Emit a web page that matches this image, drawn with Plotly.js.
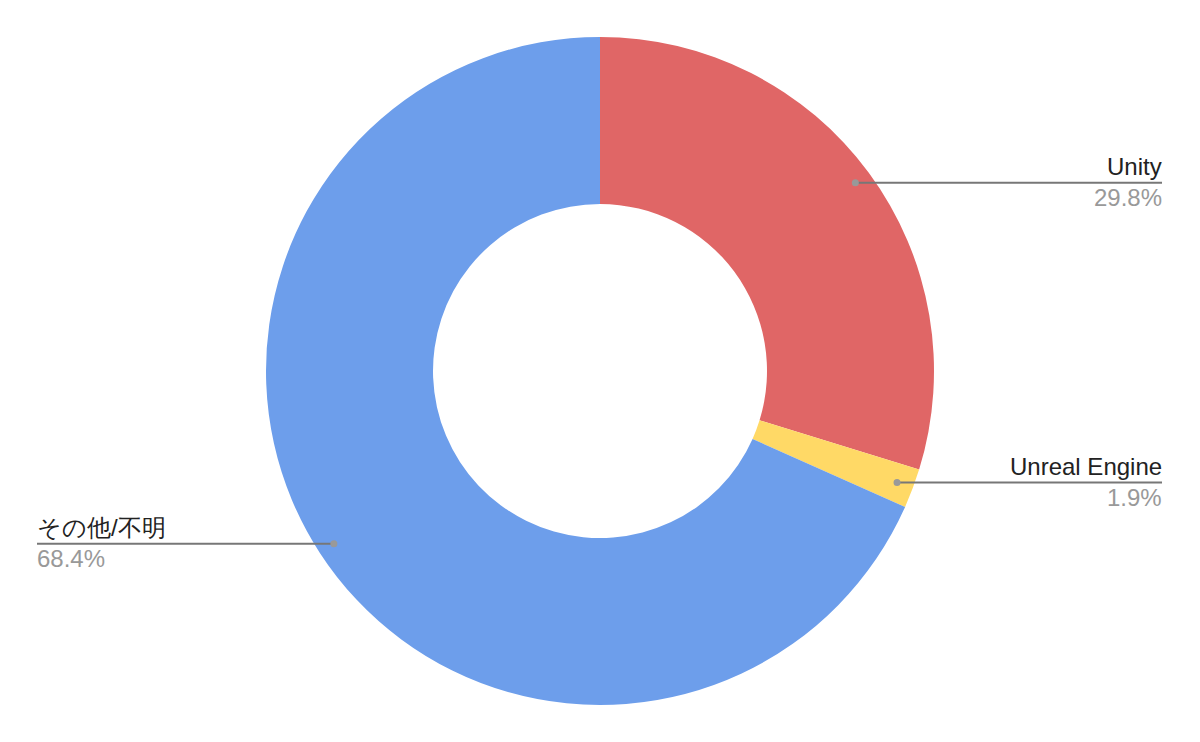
<!DOCTYPE html>
<html><head><meta charset="utf-8">
<script src="https://cdn.plot.ly/plotly-3.0.1.min.js"></script>
<style>html,body{margin:0;padding:0;background:#fff}#chart{width:1200px;height:742px}</style>
</head><body><div id="chart"></div>
<script>
const labels = ["Unity", "Unreal Engine", "その他/不明"];
const values = [29.8, 1.9, 68.4];
const colors = ["#E06666", "#FFD966", "#6D9EEB"];
const pctText = ["29.8%", "1.9%", "68.4%"];

const W = 1200, H = 742, MT = 37, MB = 37;
const cx = W / 2, cy = MT + (H - MT - MB) / 2, R = (H - MT - MB) / 2;
const dotR = R * 0.95;
const total = values.reduce((a, b) => a + b, 0);
const px = x => x / W;
const py = y => (H - MB - y) / (H - MT - MB);

const shapes = [], annotations = [];
let cum = 0;
const font = "'Liberation Sans', Arial, sans-serif";
values.forEach((v, i) => {
  const mid = (cum + v / 2) / total * 2 * Math.PI;
  cum += v;
  const dx = cx + dotR * Math.sin(mid), dy = cy - dotR * Math.cos(mid);
  const right = Math.sin(mid) >= 0;
  const endX = right ? 1162 : 37;
  shapes.push({type: "line", xref: "paper", yref: "paper", x0: px(dx), y0: py(dy), x1: px(endX), y1: py(dy),
    line: {color: "#777777", width: 2}});
  shapes.push({type: "circle", xref: "paper", yref: "paper", x0: px(dx - 3.5), x1: px(dx + 3.5), y0: py(dy - 3.5), y1: py(dy + 3.5),
    fillcolor: "#999999", line: {width: 0}});
  annotations.push({xref: "paper", yref: "paper", x: px(endX), y: py(dy), xanchor: right ? "right" : "left", yanchor: "bottom",
    text: labels[i], showarrow: false, borderpad: 0, borderwidth: 0, xshift: 0, yshift: 3,
    font: {family: font, size: 24, color: "#222222"}});
  annotations.push({xref: "paper", yref: "paper", x: px(endX), y: py(dy), xanchor: right ? "right" : "left", yanchor: "top",
    text: pctText[i], showarrow: false, borderpad: 0, borderwidth: 0, xshift: 0, yshift: -1,
    font: {family: font, size: 24, color: "#999999"}});
});

const data = [{
  type: "pie", labels: labels, values: values, hole: 0.5, sort: false, direction: "clockwise", rotation: 0,
  marker: {colors: colors, line: {width: 0}}, textinfo: "none", hoverinfo: "label+percent"
}];
const layout = {
  width: W, height: H, margin: {l: 0, r: 0, t: MT, b: MB}, showlegend: false,
  paper_bgcolor: "#ffffff", shapes: shapes, annotations: annotations
};
Plotly.newPlot("chart", data, layout, {displayModeBar: false, staticPlot: true});
</script></body></html>
